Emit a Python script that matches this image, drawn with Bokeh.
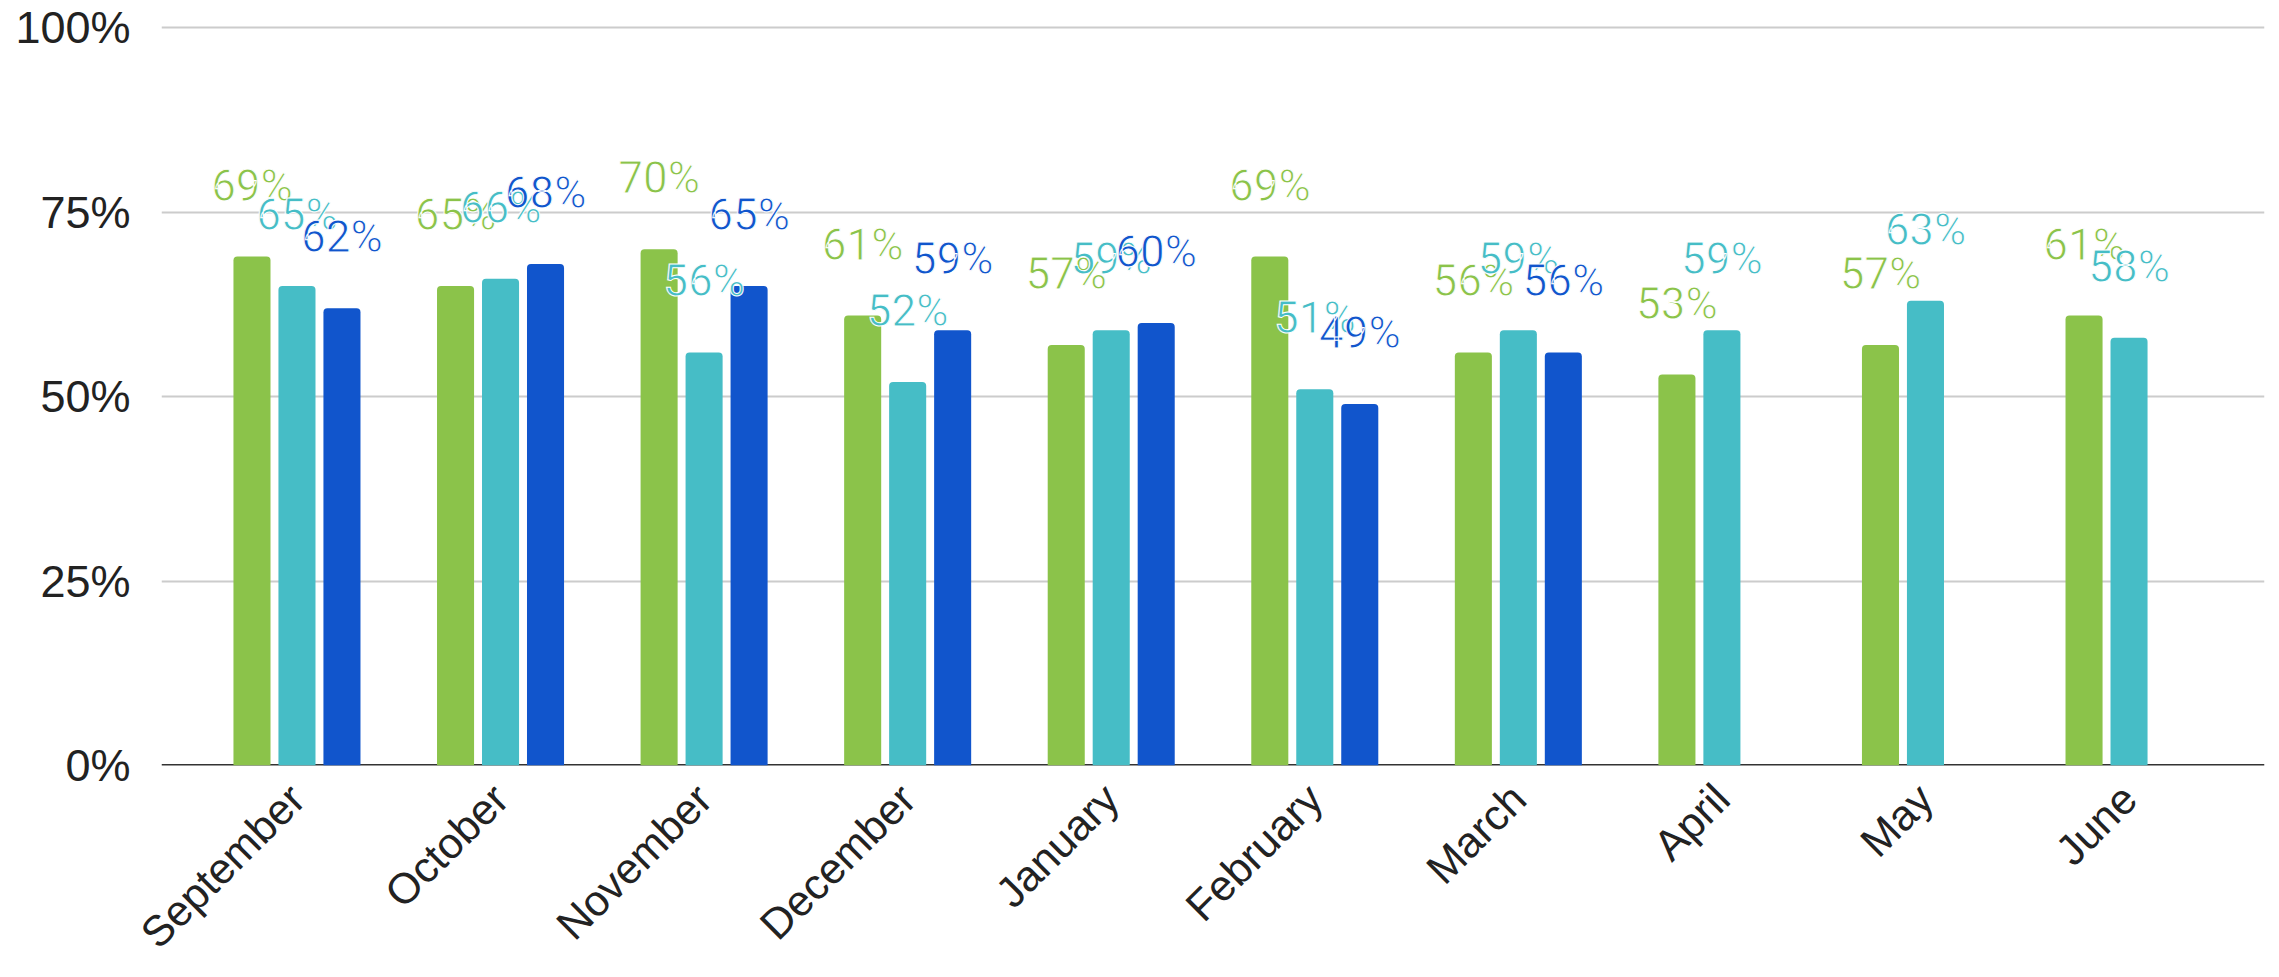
import math
from bokeh.plotting import figure
from bokeh.models import ColumnDataSource, FactorRange, FixedTicker, PrintfTickFormatter, Span
from bokeh.transform import dodge
from bokeh.core.properties import value
from bokeh.embed import file_html
from bokeh.resources import INLINE

months = ["September", "October", "November", "December", "January",
          "February", "March", "April", "May", "June"]
series_green = [69, 65, 70, 61, 57, 69, 56, 53, 57, 61]
series_teal = [65, 66, 56, 52, 59, 51, 59, 59, 63, 58]
series_blue = [62, 68, 65, 59, 60, 49, 56, None, None, None]
y_ticks = [0, 25, 50, 75, 100]

series = [series_green, series_teal, series_blue]
colors = ["#8bc34a", "#46bdc6", "#1155cc"]
offsets = [-0.221, 0.0, 0.221]

p = figure(
    x_range=FactorRange(factors=months, range_padding=0.1655, range_padding_units="absolute"),
    y_range=(0, 101),
    width=2279, height=977,
    output_backend="svg", toolbar_location=None,
    min_border_left=161, min_border_right=15, min_border_top=20, min_border_bottom=205,
)
p.outline_line_color = None
p.background_fill_color = "white"
p.border_fill_color = "white"

# y axis
p.yaxis.ticker = FixedTicker(ticks=y_ticks)
p.yaxis.formatter = PrintfTickFormatter(format="%d%%")
p.yaxis.axis_line_color = None
p.yaxis.major_tick_line_color = None
p.yaxis.minor_tick_line_color = None
p.yaxis.major_tick_out = 0
p.yaxis.major_tick_in = 0
p.yaxis.major_label_standoff = 31
p.yaxis.major_label_text_font = "Liberation Sans"
p.yaxis.major_label_text_font_size = "45px"
p.yaxis.major_label_text_color = "#222222"

# x axis
p.xaxis.axis_line_color = None
p.xaxis.major_tick_line_color = None
p.xaxis.minor_tick_line_color = None
p.xaxis.major_tick_out = 0
p.xaxis.major_tick_in = 0
p.xaxis.major_label_standoff = 26
p.xaxis.major_label_orientation = math.pi / 4
p.xaxis.major_label_text_font = "Liberation Sans"
p.xaxis.major_label_text_font_size = "43px"
p.xaxis.major_label_text_line_height = 0.8
p.xaxis.major_label_text_color = "#222222"

# grid
p.xgrid.grid_line_color = None
p.ygrid.ticker = FixedTicker(ticks=y_ticks)
p.ygrid.grid_line_color = "#cccccc"
p.ygrid.grid_line_width = 2

baseline = Span(location=0, dimension="width", line_color="#333333", line_width=3, level="underlay")
p.add_layout(baseline)

sources = []
for vals, col, off in zip(series, colors, offsets):
    m = [mo for mo, v in zip(months, vals) if v is not None]
    v = [vv for vv in vals if vv is not None]
    src = ColumnDataSource(dict(month=m, value=v, label=[f"{x}%" for x in v]))
    sources.append(src)
    p.vbar(x=dodge("month", off, range=p.x_range), top="value", width=0.182,
           source=src, fill_color=col, line_color=None, border_radius=(4, 4, 0, 0))

for src, col, off in zip(sources, colors, offsets):
    p.text(x=dodge("month", off, range=p.x_range), y="value", text="label", source=src,
           text_align="center", text_baseline="alphabetic", y_offset=-71,
           text_font=value("Roboto"), text_font_size="44px", text_color=col,
           text_outline_color="white")

open("out.html", "w").write(file_html(p, INLINE))
